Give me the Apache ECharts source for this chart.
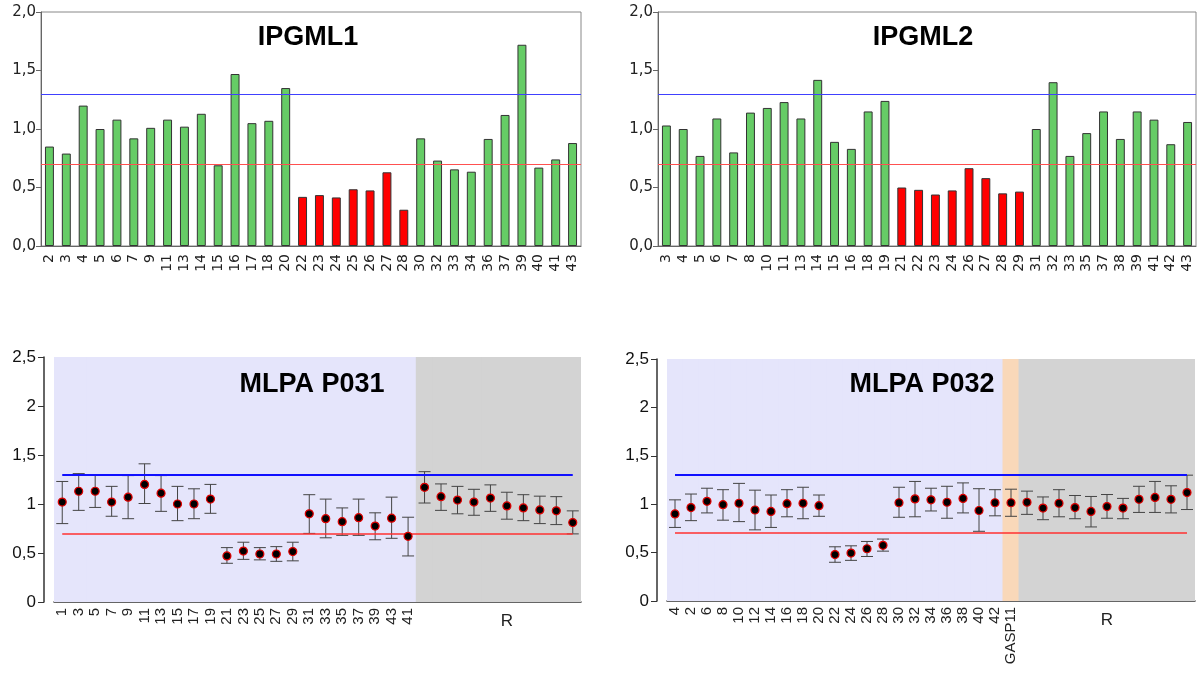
<!DOCTYPE html>
<html>
<head>
<meta charset="utf-8">
<title>IPGML / MLPA</title>
<script src="https://cdn.jsdelivr.net/npm/echarts@6/dist/echarts.min.js"></script>
<style>
  html, body { margin: 0; padding: 0; background: #fff; }
  #chart { width: 1198px; height: 673px; }
</style>
</head>
<body>
<div id="chart"></div>
<script>
// IPGML1 bars
const ipgml1Cats = ['2','3','4','5','6','7','9','11','13','14','15','16','17','18','20','22','23','24','25','26','27','28','30','32','33','34','36','37','39','40','41','43'];
const ipgml1Vals = [0.85,0.79,1.20,1.00,1.08,0.92,1.01,1.08,1.02,1.13,0.69,1.47,1.05,1.07,1.35,0.42,0.435,0.415,0.485,0.475,0.63,0.31,0.92,0.73,0.655,0.635,0.915,1.12,1.72,0.67,0.74,0.88];
const ipgml1Low = ['22','23','24','25','26','27','28'];

// IPGML2 bars
const ipgml2Cats = ['3','4','5','6','7','8','10','11','13','14','15','16','18','19','21','22','23','24','26','27','28','29','31','32','33','35','37','38','39','41','42','43'];
const ipgml2Vals = [1.03,1.00,0.77,1.09,0.80,1.14,1.18,1.23,1.09,1.42,0.89,0.83,1.15,1.24,0.50,0.48,0.44,0.475,0.665,0.58,0.45,0.465,1.00,1.40,0.77,0.965,1.15,0.915,1.15,1.08,0.87,1.06];
const ipgml2Low = ['21','22','23','24','26','27','28','29'];

// MLPA P031 points with error bars
const p031Cats = ['1','3','5','7','9','11','13','15','17','19','21','23','25','27','29','31','33','35','37','39','43','41','R1','R2','R3','R4','R5','R6','R7','R8','R9','R10'];
const p031Mean = [1.02,1.13,1.13,1.02,1.07,1.20,1.11,1.00,1.00,1.05,0.47,0.52,0.49,0.49,0.515,0.90,0.85,0.82,0.86,0.775,0.855,0.67,1.17,1.075,1.04,1.02,1.06,0.98,0.96,0.94,0.93,0.81];
const p031Lo   = [0.80,0.935,0.965,0.875,0.85,1.005,0.925,0.83,0.85,0.905,0.395,0.435,0.43,0.415,0.42,0.70,0.655,0.68,0.68,0.635,0.65,0.47,1.01,0.935,0.90,0.885,0.925,0.845,0.83,0.80,0.79,0.695];
const p031Hi   = [1.23,1.31,1.30,1.18,1.29,1.41,1.29,1.18,1.155,1.20,0.555,0.61,0.555,0.565,0.61,1.095,1.05,0.96,1.05,0.91,1.07,0.865,1.33,1.205,1.18,1.15,1.195,1.12,1.095,1.08,1.075,0.93];

// MLPA P032 points with error bars
const p032Cats = ['4','2','6','8','10','12','14','16','18','20','22','24','26','28','30','32','34','36','38','40','42','GASP11','R1','R2','R3','R4','R5','R6','R7','R8','R9','R10','R11'];
const p032Mean = [0.90,0.965,1.03,0.995,1.01,0.94,0.925,1.005,1.01,0.985,0.48,0.495,0.54,0.575,1.015,1.055,1.045,1.02,1.06,0.935,1.015,1.015,1.02,0.96,1.01,0.965,0.925,0.975,0.96,1.05,1.07,1.05,1.12];
const p032Lo   = [0.76,0.83,0.91,0.835,0.82,0.735,0.76,0.87,0.85,0.875,0.40,0.42,0.46,0.515,0.865,0.87,0.93,0.855,0.91,0.72,0.88,0.875,0.895,0.84,0.87,0.85,0.765,0.855,0.85,0.915,0.915,0.91,0.945];
const p032Hi   = [1.045,1.105,1.165,1.15,1.215,1.145,1.095,1.15,1.175,1.095,0.56,0.57,0.615,0.64,1.175,1.235,1.165,1.185,1.22,1.16,1.15,1.155,1.135,1.075,1.15,1.09,1.08,1.10,1.06,1.185,1.235,1.19,1.30];

const upperLimit = 1.3;
const lowerLimit = 0.7;

const chart = echarts.init(document.getElementById('chart'));

const comma = (v, d) => (d == null ? String(v) : v.toFixed(d)).replace('.', ',');
const regionColor = c => c.startsWith('R') ? '#d3d3d3' : (c === 'GASP11' ? '#f9d8b9' : '#e5e5fb');

function barXAxis(grid, cats) {
  return {
    type: 'category', gridIndex: grid, data: cats,
    axisLine: { lineStyle: { color: '#666' } },
    axisTick: { alignWithLabel: true, length: 4, lineStyle: { color: '#666' } },
    axisLabel: { interval: 0, rotate: 90, margin: 8, fontSize: 14, fontFamily: 'DejaVu Sans', color: '#222' }
  };
}
function barYAxis(grid) {
  return {
    type: 'value', gridIndex: grid, min: 0, max: 2, interval: 0.5,
    splitLine: { show: false },
    axisLine: { show: true, lineStyle: { color: '#666' } },
    axisTick: { show: true, length: 5, lineStyle: { color: '#666' } },
    axisLabel: { formatter: v => comma(v, 1), fontSize: 15, fontFamily: 'DejaVu Sans', color: '#222', margin: 5 }
  };
}
function barSeries(idx, cats, vals, low) {
  return {
    type: 'bar', xAxisIndex: idx, yAxisIndex: idx, barWidth: '53%',
    data: vals.map((v, i) => ({ value: v, itemStyle: { color: low.includes(cats[i]) ? '#ff0000' : '#66cc66' } })),
    itemStyle: { borderColor: '#333', borderWidth: 1 },
    markLine: {
      silent: true, symbol: 'none', label: { show: false },
      data: [
        { yAxis: upperLimit, lineStyle: { color: '#4040ff', width: 1, type: 'solid' } },
        { yAxis: lowerLimit, lineStyle: { color: '#ff5050', width: 1, type: 'solid' } }
      ]
    }
  };
}

function mlpaXAxis(grid, cats) {
  return {
    type: 'category', gridIndex: grid, data: cats, position: 'bottom',
    axisLine: { lineStyle: { color: '#333', width: 1.5 } },
    axisTick: { show: false },
    axisLabel: {
      interval: 0, rotate: 90, margin: 6, fontSize: 15, fontFamily: 'Liberation Sans', color: '#222',
      formatter: v => v.startsWith('R') ? '' : v
    }
  };
}
function refXAxis(grid, cats) {
  const refs = cats.filter(c => c.startsWith('R'));
  const mid = refs[Math.floor(refs.length / 2)];
  return {
    type: 'category', gridIndex: grid, data: cats, position: 'bottom',
    axisLine: { show: false }, axisTick: { show: false }, splitLine: { show: false },
    axisLabel: { interval: 0, margin: 11, fontSize: 17, fontFamily: 'Liberation Sans', color: '#222',
      formatter: v => v === mid ? 'R' : '' }
  };
}
function mlpaYAxis(grid) {
  return {
    type: 'value', gridIndex: grid, min: 0, max: 2.5, interval: 0.5, offset: 10,
    splitLine: { show: false },
    axisLine: { show: true, lineStyle: { color: '#333', width: 1.5 } },
    axisTick: { show: true, length: 6, lineStyle: { color: '#333' } },
    axisLabel: { formatter: v => comma(v), fontSize: 17, fontFamily: 'Liberation Sans', color: '#111', margin: 8 }
  };
}
function mlpaSeries(xIdx, yIdx, cats, mean, lo, hi) {
  const first = cats[0], last = cats[cats.length - 1];
  return [
    {
      // shaded probe regions behind the points (slightly wider than the band to hide seams)
      type: 'bar', xAxisIndex: xIdx, yAxisIndex: yIdx, barWidth: '106%', silent: true, z: 0,
      data: cats.map(c => ({ value: 2.5, itemStyle: { color: regionColor(c) } }))
    },
    {
      type: 'custom', xAxisIndex: xIdx, yAxisIndex: yIdx, z: 3,
      data: cats.map((c, i) => [i, lo[i], hi[i]]),
      encode: { x: 0, y: [1, 2] },
      renderItem: (params, api) => {
        const a = api.coord([api.value(0), api.value(1)]);
        const b = api.coord([api.value(0), api.value(2)]);
        const w = 6;
        const style = { stroke: '#444', lineWidth: 1 };
        return {
          type: 'group',
          children: [
            { type: 'line', shape: { x1: a[0], y1: a[1], x2: b[0], y2: b[1] }, style },
            { type: 'line', shape: { x1: a[0] - w, y1: a[1], x2: a[0] + w, y2: a[1] }, style },
            { type: 'line', shape: { x1: b[0] - w, y1: b[1], x2: b[0] + w, y2: b[1] }, style }
          ]
        };
      }
    },
    {
      type: 'scatter', xAxisIndex: xIdx, yAxisIndex: yIdx, z: 5,
      data: mean, symbolSize: 8,
      itemStyle: { color: '#000', borderColor: '#e00000', borderWidth: 1.2, opacity: 1 },
      markLine: {
        silent: true, symbol: 'none', label: { show: false },
        data: [
          [{ coord: [first, upperLimit], lineStyle: { color: '#1010ff', width: 2, type: 'solid' } }, { coord: [last, upperLimit] }],
          [{ coord: [first, lowerLimit], lineStyle: { color: '#ff3030', width: 1.5, type: 'solid' } }, { coord: [last, lowerLimit] }]
        ]
      }
    }
  ];
}

const titleStyle = { fontSize: 27, fontWeight: 'bold', fontFamily: 'Liberation Sans', fill: '#000', align: 'center', verticalAlign: 'middle' };

const option = {
  animation: false,
  backgroundColor: '#fff',
  grid: [
    { left: 41, right: 617, top: 12, bottom: 427, show: true, borderColor: '#888', borderWidth: 1 },
    { left: 658, right: 2, top: 12, bottom: 427, show: true, borderColor: '#888', borderWidth: 1 },
    { left: 54, right: 617, top: 357, bottom: 71 },
    { left: 667, right: 3, top: 359, bottom: 72 }
  ],
  xAxis: [
    barXAxis(0, ipgml1Cats),
    barXAxis(1, ipgml2Cats),
    mlpaXAxis(2, p031Cats),
    refXAxis(2, p031Cats),
    mlpaXAxis(3, p032Cats),
    refXAxis(3, p032Cats)
  ],
  yAxis: [barYAxis(0), barYAxis(1), mlpaYAxis(2), mlpaYAxis(3)],
  series: [
    barSeries(0, ipgml1Cats, ipgml1Vals, ipgml1Low),
    barSeries(1, ipgml2Cats, ipgml2Vals, ipgml2Low),
    ...mlpaSeries(2, 2, p031Cats, p031Mean, p031Lo, p031Hi),
    ...mlpaSeries(4, 3, p032Cats, p032Mean, p032Lo, p032Hi)
  ],
  graphic: [
    { type: 'text', x: 308, y: 38, z: 10, style: { text: 'IPGML1', ...titleStyle } },
    { type: 'text', x: 923, y: 38, z: 10, style: { text: 'IPGML2', ...titleStyle } },
    { type: 'text', x: 312, y: 385, z: 10, style: { text: 'MLPA P031', ...titleStyle } },
    { type: 'text', x: 922, y: 385, z: 10, style: { text: 'MLPA P032', ...titleStyle } }
  ]
};

chart.setOption(option);
</script>
</body>
</html>
